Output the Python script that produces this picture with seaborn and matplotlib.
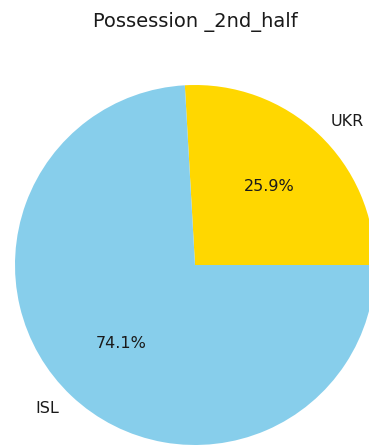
import matplotlib
matplotlib.use("Agg")
import matplotlib.pyplot as plt
import seaborn as sns

sns.set_style("white")
plt.rcParams['font.family'] = ['DejaVu Sans']

teams = ["UKR", "ISL"]
possession = [25.9, 74.1]
colors = ["#FFD700", "#87CEEB"]

fig = plt.figure(figsize=(3.69, 4.45), dpi=100)
ax = fig.add_axes([0, 0, 1, 1])
ax.pie(possession, labels=teams, colors=colors, autopct="%1.1f%%",
       startangle=0, wedgeprops={"linewidth": 0, "edgecolor": "none"},
       textprops={"fontsize": 11.5, "color": "#1a1a1a"})
ax.set_aspect("auto")
ax.set_xlim(-195 / 180, (369 - 195) / 180)
ax.set_ylim((265 - 445) / 180, 265 / 180)
ax.axis("off")
fig.text(195 / 369, 1 - 22 / 445, "Possession _2nd_half", ha="center",
         va="center", fontsize=14, color="#1a1a1a")
fig.savefig("out.png", dpi=100)
